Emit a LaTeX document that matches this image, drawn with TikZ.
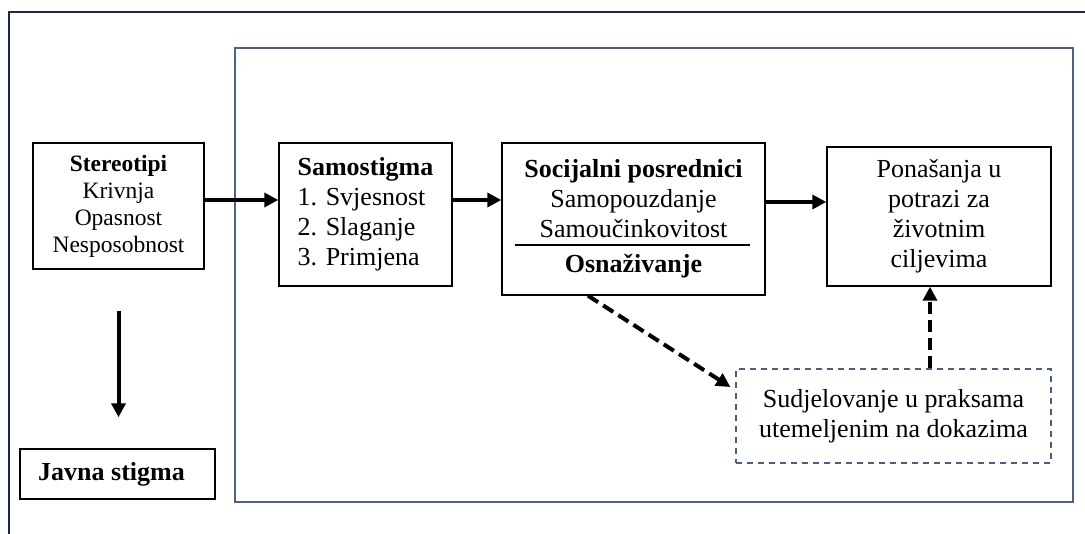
\documentclass[tikz,border=0pt]{standalone}
\usepackage{fontspec}
\setmainfont{Liberation Serif}
\usetikzlibrary{arrows.meta,calc}
\definecolor{outerc}{HTML}{1C2A4A}
\definecolor{innerc}{HTML}{4D6285}
\definecolor{dashc}{HTML}{4A5D80}
\tikzset{
  box/.style={draw=black, line width=1.4pt, inner sep=0pt, align=center},
  bigtxt/.style={font=\fontsize{26}{30}\selectfont},
  smalltxt/.style={font=\fontsize{23.5}{27}\selectfont},
  arr/.style={line width=4pt, -{Triangle[length=14pt,width=14pt]}},
  darr/.style={line width=4pt, dash pattern=on 12pt off 6pt, -{Triangle[length=14pt,width=14pt]}},
}
\begin{document}
\begin{tikzpicture}[x=1pt,y=-1pt]
\useasboundingbox (0,0) rectangle (1085,534);
\clip (0,0) rectangle (1085,534);
% frames
\draw[outerc, line width=2.6pt] (9,560) -- (9,12) -- (1110,12);
\draw[innerc, line width=1.6pt] (235,48) rectangle (1073,502);
% nodes
\node[box, smalltxt, minimum width=171pt, minimum height=126pt] (stereo) at (118.5,206)
  {\textbf{Stereotipi}\\Krivnja\\Opasnost\\Nesposobnost};
\node[box, bigtxt, minimum width=195pt, minimum height=50pt] (javna) at (117.5,474)
  {\textbf{Javna stigma}\hspace{12pt}};
\node[box, bigtxt, align=left, minimum width=173pt, minimum height=143pt] (samo) at (365.5,214.5)
  {\textbf{Samostigma}\\1. Svjesnost\\2. Slaganje\\3. Primjena};
\node[box, bigtxt, minimum width=263pt, minimum height=152pt] (soc) at (633.5,219)
  {\textbf{Socijalni posrednici}\\Samopouzdanje\\Samoučinkovitost\\[5pt]\textbf{Osnaživanje}};
\node[box, bigtxt, minimum width=224pt, minimum height=139pt] (pon) at (939,216.5)
  {Ponašanja u\\potrazi za\\životnim\\ciljevima};
\node[box, bigtxt, draw=dashc, line width=1.3pt, dash pattern=on 6pt off 5pt,
  minimum width=315pt, minimum height=94pt] (sud) at (893.5,416)
  {Sudjelovanje u praksama\\utemeljenim na dokazima};
% separator inside soc
\coordinate (sepl) at (515,245);
\coordinate (sepr) at (750,245);
\draw[line width=1.2pt] (sepl) -- (sepr);
% connectors
\coordinate (ya) at (0,200);
\coordinate (yb) at (0,202);
\coordinate (ux) at (930,0);
\draw[arr] (stereo.east |- ya) -- (samo.west |- ya);
\draw[arr] (samo.east |- ya) -- (soc.west |- ya);
\draw[arr] (soc.east |- yb) -- (pon.west |- yb);
\draw[arr, shorten <=41pt, shorten >=31pt] (stereo.south) -- (stereo.south |- javna.north);
\draw[darr] ([xshift=-45.5pt]soc.south) -- ([shift={(-5,-29)}]sud.west);
\draw[darr] (sud.north -| ux) -- (pon.south -| ux);
\end{tikzpicture}
\end{document}
